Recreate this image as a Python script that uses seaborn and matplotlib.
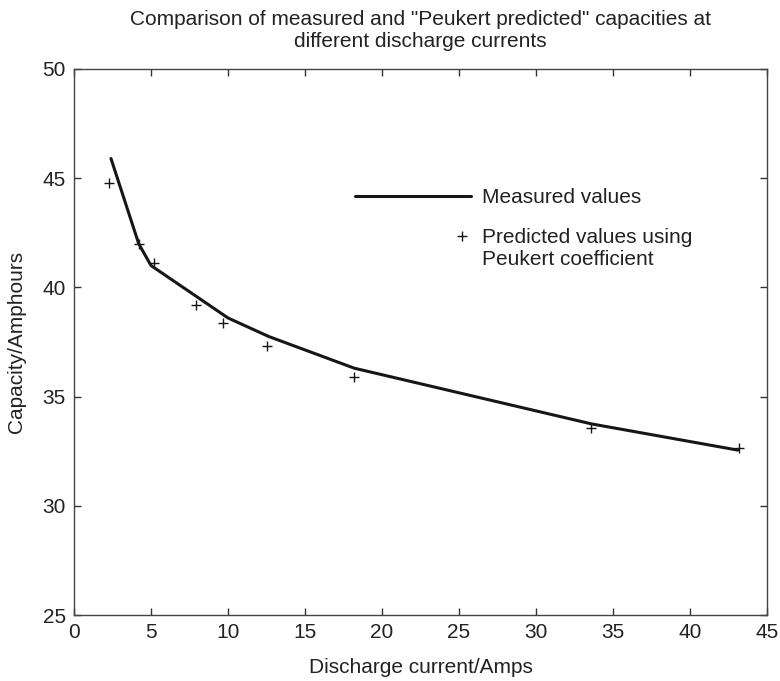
import numpy as np
import pandas as pd
import matplotlib
matplotlib.use("Agg")
import matplotlib.pyplot as plt
import seaborn as sns
from matplotlib.lines import Line2D
from matplotlib.legend_handler import HandlerBase

# Measured capacities (solid line)
measured_current = [2.4, 4.2, 5.0, 10.0, 12.65, 18.2, 33.6, 43.1]
measured_capacity = [45.9, 42.0, 41.0, 38.6, 37.75, 36.3, 33.75, 32.55]

# Peukert predicted capacities (+ markers)
predicted_current = [2.3, 4.2, 5.2, 7.9, 9.65, 12.55, 18.15, 33.6, 43.2]
predicted_capacity = [44.8, 42.0, 41.1, 39.2, 38.35, 37.3, 35.9, 33.55, 32.65]

x_ticks = [0, 5, 10, 15, 20, 25, 30, 35, 40, 45]
y_ticks = [25, 30, 35, 40, 45, 50]

df_meas = pd.DataFrame({"current": measured_current, "capacity": measured_capacity})
df_pred = pd.DataFrame({"current": predicted_current, "capacity": predicted_capacity})

INK = "#161616"
TXT = "#222222"


class HandlerPlusRight(HandlerBase):
    # marker sits at the right end of the handle, level with the first text line
    def create_artists(self, legend, orig_handle, xdescent, ydescent,
                       width, height, fontsize, trans):
        y = (height - ydescent) / 2 + fontsize * 0.58
        m = Line2D([-xdescent + width * 0.92], [y], linestyle="none")
        self.update_prop(m, orig_handle, legend)
        m.set_transform(trans)
        return [m]


sns.set_style("ticks")
plt.rcParams["font.family"] = ["Liberation Sans", "DejaVu Sans"]

fig = plt.figure(figsize=(7.8, 6.81), dpi=100)
ax = fig.add_axes([0.0949, 0.0969, 0.8885, 0.8018])

sns.lineplot(data=df_meas, x="current", y="capacity", ax=ax, color=INK,
             linewidth=2.2, sort=False, legend=False)
sns.scatterplot(data=df_pred, x="current", y="capacity", ax=ax, marker="+",
                color=INK, s=55, linewidth=1.0, legend=False)

ax.set_xlim(0, 45)
ax.set_ylim(25, 50)
ax.set_xticks(x_ticks)
ax.set_yticks(y_ticks)
ax.tick_params(direction="in", length=5, width=1, top=True, right=True,
               labelsize=15, color="#333333", labelcolor=TXT)
ax.tick_params(axis="x", pad=6)
ax.tick_params(axis="y", pad=6)
for sp in ax.spines.values():
    sp.set_visible(True)
    sp.set_color("#444444")
    sp.set_linewidth(1.0)

ax.set_xlabel("Discharge current/Amps", fontsize=15, color=TXT, labelpad=11)
ax.set_ylabel("Capacity/Amphours", fontsize=15, color=TXT, labelpad=12)
ax.set_title('Comparison of measured and "Peukert predicted" capacities at\ndifferent discharge currents',
             fontsize=15, color=TXT, pad=16, linespacing=1.2)

h_line = Line2D([], [], color=INK, linewidth=2.2)
h_mark = Line2D([], [], color=INK, linestyle="none", marker="+",
                markersize=7.5, markeredgewidth=1.0)
ax.legend([h_line, h_mark],
          ["Measured values", "Predicted values using\nPeukert coefficient"],
          handler_map={h_mark: HandlerPlusRight()},
          loc="upper left", bbox_to_anchor=(0.4055, 0.782), frameon=False,
          fontsize=15, handlelength=5.57, handletextpad=0.53, borderpad=0,
          borderaxespad=0, labelspacing=1.0, labelcolor=TXT)

fig.savefig("out.png", dpi=100)
